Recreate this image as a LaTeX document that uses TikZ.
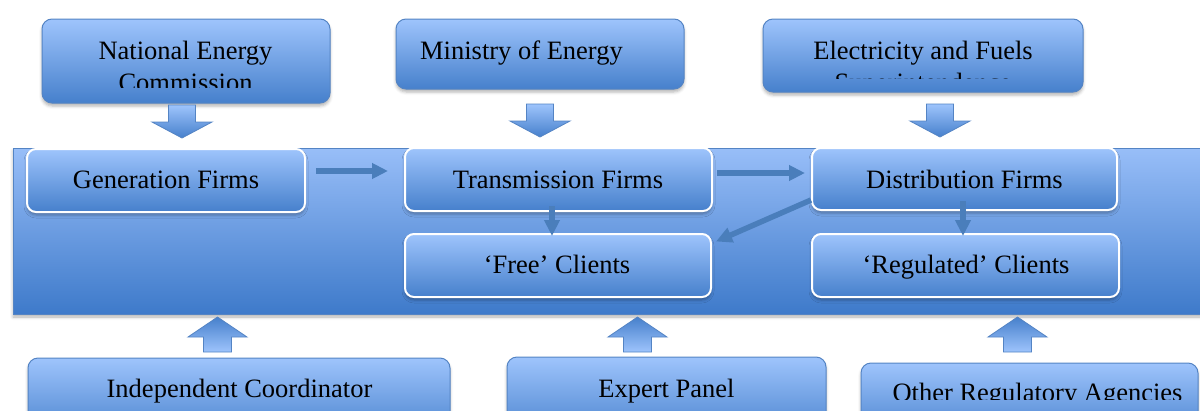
\documentclass[tikz,border=0pt]{standalone}
\usepackage{fontspec}
\setmainfont{Liberation Serif}
\usetikzlibrary{arrows.meta,calc,shadows.blur}

\definecolor{boxlight}{RGB}{158,196,252}
\definecolor{boxdark}{RGB}{70,128,204}
\definecolor{boxedge}{RGB}{84,132,196}
\definecolor{panellight}{RGB}{152,190,248}
\definecolor{paneldark}{RGB}{62,122,202}
\definecolor{linkblue}{RGB}{74,126,187}

\tikzset{
  softshadow/.style={blur shadow={shadow xshift=0pt, shadow yshift=-3pt,
      shadow blur radius=3pt, shadow opacity=30}},
  agency/.style={draw=boxedge, line width=1pt, rounded corners=10pt,
      top color=boxlight, bottom color=boxdark, softshadow, inner sep=0pt},
  firm/.style={draw=white, line width=2pt, rounded corners=9pt,
      top color=boxlight, bottom color=boxdark, softshadow, inner sep=0pt},
  panel/.style={draw=boxedge, line width=0.6pt, top color=panellight,
      bottom color=paneldark, softshadow, inner sep=0pt},
  label/.style={font=\fontsize{26.5}{32}\selectfont, inner sep=0pt,
      anchor=base, align=center},
  link/.style={draw=linkblue, line width=5.5pt,
      -{Triangle[width=15pt,length=16pt]}},
  blockdown/.style={draw=boxedge, line width=0.8pt, top color=boxlight,
      bottom color=boxdark},
  blockup/.style={draw=boxedge, line width=0.8pt, top color=boxdark,
      bottom color=boxlight},
  downblock/.pic={\path[blockdown] (-13.5,-33) -- (13.5,-33) -- (13.5,-16)
      -- (30,-16) -- (0,0) -- (-30,-16) -- (-13.5,-16) -- cycle;},
  upblock/.pic={\path[blockup] (-14,35) -- (14,35) -- (14,20)
      -- (29.5,20) -- (0,0) -- (-29.5,20) -- (-14,20) -- cycle;},
}

\begin{document}
\begin{tikzpicture}[x=1pt,y=-1pt]
\useasboundingbox (0,0) rectangle (1200,410);
\clip (0,0) rectangle (1200,410);

% regulators above the market
\node[agency, minimum width=288pt, minimum height=84pt] (nec) at (186,61) {};
\node[agency, minimum width=288pt, minimum height=70pt] (moe) at (540,54) {};
\node[agency, minimum width=320pt, minimum height=73pt] (efs) at (923,55.5) {};

\begin{scope}
  \clip (42,19) rectangle (330,87);
  \node[label] (necText) at (185.5,91) {National Energy\\Commission};
\end{scope}
\node[label] (moeText) at (521.5,59) {Ministry of Energy};
\begin{scope}
  \clip (763,19) rectangle (1083,78);
  \node[label] (efsText) at (923,91.5) {Electricity and Fuels\\Superintendence};
\end{scope}

% downward influence arrows
\pic at (182,138) {downblock};
\pic at (540,137) {downblock};
\pic at (940,137) {downblock};

% market panel and its firms
\node[panel, minimum width=1197pt, minimum height=166pt] (market) at (611.5,231) {};

\node[firm, minimum width=278pt, minimum height=63pt] (gen) at (166,180.5) {};
\node[firm, minimum width=307pt, minimum height=63pt] (trans) at (558.5,179.5) {};
\node[firm, minimum width=305pt, minimum height=62pt] (dist) at (964.5,179) {};
\node[firm, minimum width=306pt, minimum height=63pt] (free) at (558,265.5) {};
\node[firm, minimum width=307pt, minimum height=63pt] (reg) at (965.5,265.5) {};

\node[label] (genText) at (166,188) {Generation Firms};
\node[label] (transText) at (558,188) {Transmission Firms};
\node[label] (distText) at (964.5,188) {Distribution Firms};
\node[label] (freeText) at (557,273) {‘Free’ Clients};
\node[label] (regText) at (966,273) {‘Regulated’ Clients};

% energy flows
\draw[link] ($(gen.east)+(10,-9.5)$) -- ($(trans.west)+(-16,-8.5)$);
\draw[link] ($(trans.east)+(4,-6.5)$) -- ($(dist.west)+(-6,-6)$);
\draw[link] ($(trans.south)+(-6.5,-6)$) -- ($(free.north)+(-6,3)$);
\draw[link] ($(dist.south)+(-1.5,-10)$) -- ($(reg.north)+(-2.5,3)$);
\draw[link] ($(dist.west)+(0,21)$) -- ($(free.east)+(4,-24)$);

% supporting bodies below the market
\pic at (217.5,317) {upblock};
\pic at (637.5,317) {upblock};
\pic at (1017.5,317) {upblock};

\node[agency, minimum width=422pt, minimum height=82pt] (ic) at (239,399) {};
\node[agency, minimum width=319pt, minimum height=83pt] (ep) at (666.5,398.5) {};
\node[agency, minimum width=337pt, minimum height=77pt] (ora) at (1029.5,401.5) {};

\node[label] (icText) at (239.5,397) {Independent Coordinator};
\node[label] (epText) at (666.5,397) {Expert Panel};
\begin{scope}
  \clip (861,363) rectangle (1198,399.5);
  \node[label] (oraText) at (1037.5,401) {Other Regulatory Agencies};
\end{scope}
\end{tikzpicture}
\end{document}
